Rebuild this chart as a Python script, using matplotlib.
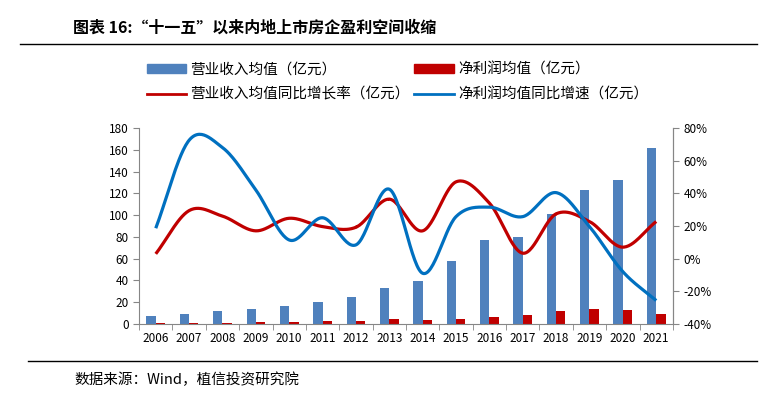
import numpy as np
import matplotlib
matplotlib.use("Agg")
import matplotlib.pyplot as plt
from matplotlib.lines import Line2D
from matplotlib.patches import Patch

plt.rcParams["font.family"] = ["Noto Sans CJK SC", "DejaVu Sans"]

years = ["2006", "2007", "2008", "2009", "2010", "2011", "2012", "2013",
         "2014", "2015", "2016", "2017", "2018", "2019", "2020", "2021"]
revenue = [7.5, 9.5, 12, 14, 16.5, 20, 25, 33, 39.5, 58, 77, 80, 101, 123, 132, 161.5]
profit = [1, 1, 1, 2, 2, 3, 3, 4.5, 3.7, 4.6, 6.4, 8.3, 12, 13.8, 12.9, 9.2]
rev_growth = [2.9, 29.4, 26, 17, 24.7, 19.6, 19.2, 36.4, 17, 47, 34, 3.3, 27.4, 22.7, 7, 22.7]
profit_growth = [18.6, 72.5, 68, 42, 11.4, 25, 8.4, 42.5, -9, 25.7, 31.5, 25.7, 40.4, 19.6, -8, -25.7]

C_BAR_BLUE = "#4F81BD"
C_RED = "#C00000"
C_LINE_BLUE = "#0070C0"
C_AXIS = "#868686"


def smooth(x, y, n=30):
    # Catmull-Rom 样条，近似 Excel 平滑线
    x = np.asarray(x, float)
    y = np.asarray(y, float)
    px = np.concatenate([[2 * x[0] - x[1]], x, [2 * x[-1] - x[-2]]])
    py = np.concatenate([[2 * y[0] - y[1]], y, [2 * y[-1] - y[-2]]])
    xs, ys = [], []
    t = np.linspace(0, 1, n)
    for i in range(1, len(px) - 2):
        for p, out in ((px, xs), (py, ys)):
            p0, p1, p2, p3 = p[i - 1], p[i], p[i + 1], p[i + 2]
            out.extend(0.5 * ((2 * p1) + (-p0 + p2) * t
                              + (2 * p0 - 5 * p1 + 4 * p2 - p3) * t ** 2
                              + (-p0 + 3 * p1 - 3 * p2 + p3) * t ** 3))
    return np.array(xs), np.array(ys)


fig = plt.figure(figsize=(7.77, 3.95), dpi=100)
ax = fig.add_axes([0.179, 0.180, 0.687, 0.496])
ax2 = ax.twinx()

x = np.arange(len(years))
w = 0.28
ax.bar(x - w / 2, revenue, width=w, color=C_BAR_BLUE, zorder=2)
ax.bar(x + w / 2, profit, width=w, color=C_RED, zorder=2)

sx, sy = smooth(x, rev_growth)
ax2.plot(sx, sy, color=C_RED, lw=2.3, solid_capstyle="butt")
sx, sy = smooth(x, profit_growth)
ax2.plot(sx, sy, color=C_LINE_BLUE, lw=2.3, solid_capstyle="butt")

ax.set_xlim(-0.5, len(years) - 0.5)
ax.set_ylim(0, 180)
ax.set_yticks(range(0, 181, 20))
ax2.set_ylim(-40, 80)
ax2.set_yticks(range(-40, 81, 20))
ax2.set_yticklabels([f"{v}%" for v in range(-40, 81, 20)])

ax.set_xticks(x)
ax.set_xticklabels(years)
ax.set_xticks(np.arange(-0.5, len(years), 1), minor=True)
ax.tick_params(axis="x", which="major", length=0, labelsize=8.5, pad=6)
ax.tick_params(axis="x", which="minor", length=4, color=C_AXIS, direction="out")
ax.tick_params(axis="y", labelsize=8.5, length=4, color=C_AXIS)
ax2.tick_params(axis="y", labelsize=8.5, length=4, color=C_AXIS)

for a in (ax, ax2):
    a.spines["top"].set_visible(False)
    for s in ("left", "right", "bottom"):
        a.spines[s].set_color(C_AXIS)
ax2.spines["left"].set_visible(False)
ax2.spines["bottom"].set_visible(False)

# 图例按列填充：第一列为柱、红线，第二列为红柱、蓝线
handles = [Patch(color=C_BAR_BLUE), Line2D([], [], color=C_RED, lw=2),
           Patch(color=C_RED), Line2D([], [], color=C_LINE_BLUE, lw=2)]
labels = ["营业收入均值（亿元）", "营业收入均值同比增长率（亿元）",
          "净利润均值（亿元）", "净利润均值同比增速（亿元）"]
fig.legend(handles, labels, ncol=2, loc="upper left", bbox_to_anchor=(0.172, 0.875),
           frameon=False, fontsize=10.5, handlelength=2.7, handleheight=0.5,
           handletextpad=0.3, columnspacing=0.3, labelspacing=0.75)

fig.text(0.094, 0.93, "图表 16:“十一五”以来内地上市房企盈利空间收缩",
         fontsize=11.5, fontweight="bold", va="center", ha="left")
fig.add_artist(Line2D([0.026, 0.974], [0.888, 0.888], color="black", lw=1))
fig.add_artist(Line2D([0.036, 0.974], [0.086, 0.086], color="black", lw=1))
fig.text(0.096, 0.038, "数据来源：Wind，植信投资研究院", fontsize=10.5,
         va="center", ha="left")

fig.savefig("out.png", dpi=100)
